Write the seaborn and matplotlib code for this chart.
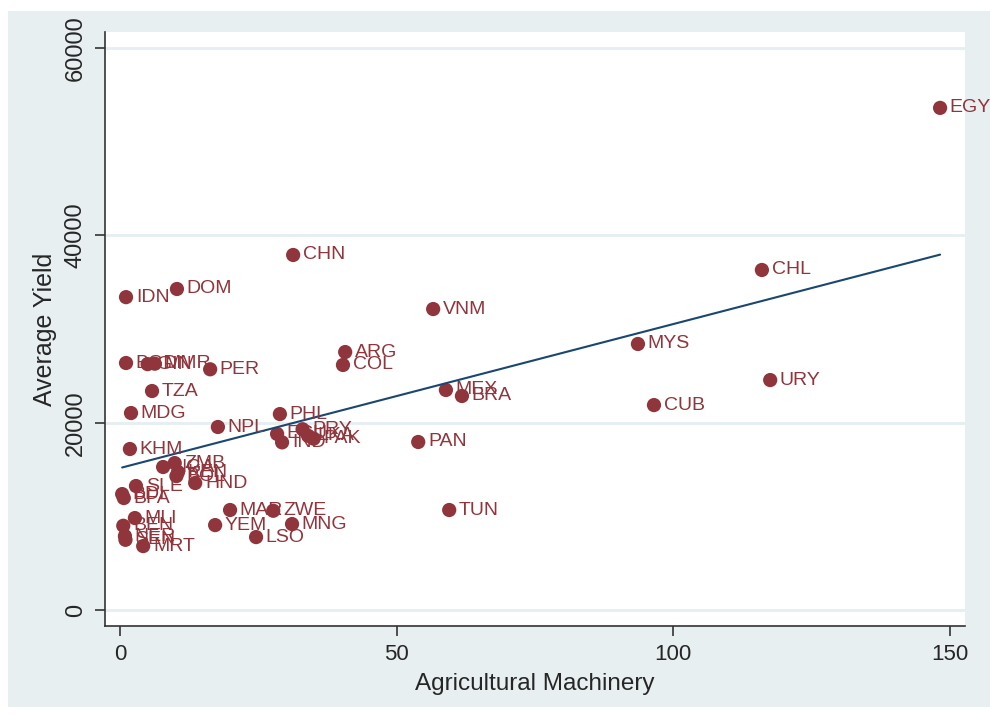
import matplotlib
matplotlib.use("Agg")
import matplotlib.pyplot as plt
from matplotlib.patches import Rectangle
import seaborn as sns
import pandas as pd

# Country codes, machinery per 100 sq. km of arable land, average cereal yield
countries = ["EGY", "CHN", "CHL", "IDN", "DOM", "VNM", "MYS", "ARG", "COL",
             "BGD", "GIN", "MMR", "PER", "URY", "TZA", "MEX", "BRA", "CUB",
             "MDG", "PHL", "NPL", "ECU", "IND", "PRY", "LKA", "PAK", "PAN",
             "KHM", "NGA", "ZMB", "KEN", "BOL", "HND", "SLE", "BDI", "BFA",
             "MLI", "BEN", "NER", "SEN", "MRT", "MAR", "ZWE", "TUN", "YEM",
             "MNG", "LSO"]
machinery = [148.2, 31.3, 116.0, 1.1, 10.3, 56.6, 93.6, 40.7, 40.3,
             1.1, 5.0, 6.3, 16.3, 117.5, 5.8, 58.9, 61.8, 96.5,
             2.0, 28.9, 17.7, 28.4, 29.3, 33.0, 34.0, 35.0, 53.9,
             1.8, 7.8, 9.9, 10.5, 10.2, 13.6, 2.9, 0.4, 0.7,
             2.7, 0.6, 0.9, 1.0, 4.2, 19.9, 27.7, 59.5, 17.2,
             31.1, 24.6]
avg_yield = [53600, 37900, 36300, 33400, 34270, 32130, 28400, 27540, 26160,
             26370, 26250, 26300, 25700, 24550, 23380, 23490, 22850, 21880,
             21030, 20920, 19540, 18800, 17900, 19300, 18600, 18300, 17940,
             17190, 15270, 15690, 14730, 14300, 13560, 13240, 12380, 11960,
             9820, 9000, 7900, 7500, 6830, 10680, 10600, 10680, 9070,
             9180, 7790]

x_ticks = [0, 50, 100, 150]
y_ticks = [0, 20000, 40000, 60000]

df = pd.DataFrame({"country": countries, "machinery": machinery,
                   "avg_yield": avg_yield})

MAROON = "#90353B"
NAVY = "#1A476F"
REGION = "#E8EFF1"
GRID = "#E6EEF1"

sns.set_theme(style="white")
plt.rcParams["font.family"] = ["Liberation Sans", "DejaVu Sans"]

fig = plt.figure(figsize=(9.9, 7.18), dpi=100)
fig.patch.set_facecolor("white")
fig.add_artist(Rectangle((8 / 990, 11 / 718), 1 - 8 / 990, (707 - 11) / 718,
                         transform=fig.transFigure, facecolor=REGION,
                         edgecolor="none", zorder=-10))

ax = fig.add_axes([105 / 990, (718 - 626) / 718, (965 - 105) / 990,
                   (626 - 32) / 718])
ax.set_facecolor("white")

sns.scatterplot(data=df, x="machinery", y="avg_yield", ax=ax, color=MAROON,
                s=105, edgecolor="none", zorder=3, clip_on=False)
sns.regplot(data=df, x="machinery", y="avg_yield", ax=ax, scatter=False,
            ci=None, color=NAVY, line_kws={"lw": 1.5, "zorder": 4})

for c, xv, yv in zip(countries, machinery, avg_yield):
    ax.annotate(c, (xv, yv), xytext=(7, 0), textcoords="offset points",
                va="center", ha="left", fontsize=14, color=MAROON,
                zorder=5, annotation_clip=False)

ax.set_xlim(-2.7, 152.7)
ax.set_ylim(-1700, 61700)
ax.set_xticks(x_ticks)
ax.set_yticks(y_ticks)
ax.set_xticklabels([str(t) for t in x_ticks], fontsize=16)
ax.set_yticklabels([str(t) for t in y_ticks], fontsize=17, rotation=90,
                   va="center")
for t in y_ticks:
    ax.axhline(t, color=GRID, lw=2, zorder=1)

ax.tick_params(axis="both", direction="out", length=7, width=1.2,
               color="#333333", left=True, bottom=True, pad=6)
for side in ["top", "right"]:
    ax.spines[side].set_visible(False)
for side in ["left", "bottom"]:
    ax.spines[side].set_color("#333333")
    ax.spines[side].set_linewidth(1.2)

ax.set_xlabel("Agricultural Machinery", fontsize=17.5, labelpad=6)
ax.set_ylabel("Average Yield", fontsize=18, labelpad=6)

fig.savefig("out.png", dpi=100, facecolor="white")
